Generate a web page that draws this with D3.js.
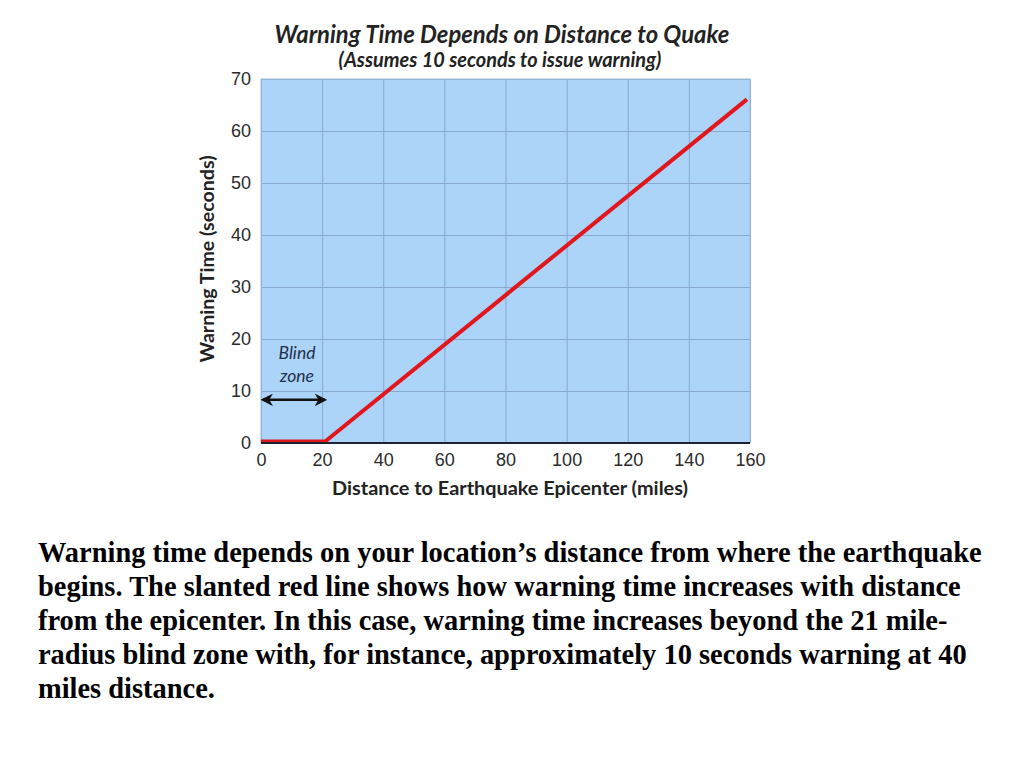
<!DOCTYPE html>
<html>
<head>
<meta charset="utf-8">
<script src="https://cdn.jsdelivr.net/npm/d3@7"></script>
<style>
  html, body { margin: 0; padding: 0; background: #fff; }
  svg { display: block; }
</style>
</head>
<body>
<svg id="chart" width="1024" height="768"></svg>
<script>
// values
var distanceMiles = [0, 21, 159];
var warningSeconds = [0, 0, 65.8];
var xTickValues = [0, 20, 40, 60, 80, 100, 120, 140, 160];
var yTickValues = [0, 10, 20, 30, 40, 50, 60, 70];
var blindZoneMiles = [0, 21.5];
var blindZoneArrowY = 8.3;

var titleText = 'Warning Time Depends on Distance to Quake';
var subtitleText = '(Assumes 10 seconds to issue warning)';
var xTitle = 'Distance to Earthquake Epicenter (miles)';
var yTitle = 'Warning Time (seconds)';
var captionLines = [
  'Warning time depends on your location\u2019s distance from where the earthquake',
  'begins. The slanted red line shows how warning time increases with distance',
  'from the epicenter. In this case, warning time increases beyond the 21 mile-',
  'radius blind zone with, for instance, approximately 10 seconds warning at 40',
  'miles distance.'
];

var svg = d3.select('#chart');
var plot = { left: 261, right: 750, top: 79, bottom: 443 };

var x = d3.scaleLinear().domain([0, 160]).range([plot.left, plot.right]);
var y = d3.scaleLinear().domain([0, 70]).range([plot.bottom, plot.top]);

// fit a text to a measured width by changing its font size
function fitWidth(sel, w, fs) {
  fs = fs || parseFloat(sel.attr('font-size'));
  var len = sel.node().getComputedTextLength();
  var nfs = fs * w / len;
  sel.attr('font-size', nfs.toFixed(2));
  return nfs;
}

// background
svg.append('rect')
  .attr('x', plot.left).attr('y', plot.top)
  .attr('width', plot.right - plot.left).attr('height', plot.bottom - plot.top)
  .attr('fill', '#acd3f8');

// grid
svg.append('g')
  .attr('transform', 'translate(0,' + plot.bottom + ')')
  .call(d3.axisBottom(x).tickValues(xTickValues).tickSize(-(plot.bottom - plot.top)).tickFormat(''))
  .call(function(g){ g.select('.domain').remove(); })
  .selectAll('line').attr('stroke', '#86a9cc').attr('stroke-width', 1);

svg.append('g')
  .attr('transform', 'translate(' + plot.left + ',0)')
  .call(d3.axisLeft(y).tickValues(yTickValues).tickSize(-(plot.right - plot.left)).tickFormat(''))
  .call(function(g){ g.select('.domain').remove(); })
  .selectAll('line').attr('stroke', '#86a9cc').attr('stroke-width', 1);

// frame lines
svg.append('rect')
  .attr('x', plot.left).attr('y', plot.top)
  .attr('width', plot.right - plot.left).attr('height', plot.bottom - plot.top)
  .attr('fill', 'none').attr('stroke', '#9dbfe0').attr('stroke-width', 1);

// tick labels
var xAxis = svg.append('g')
  .attr('transform', 'translate(0,' + plot.bottom + ')')
  .call(d3.axisBottom(x).tickValues(xTickValues).tickSize(0).tickPadding(10));
xAxis.select('.domain').remove();
xAxis.selectAll('text')
  .attr('font-family', 'Liberation Sans, Arial, sans-serif')
  .attr('font-size', 18).attr('fill', '#2b2b2b');

var yAxis = svg.append('g')
  .attr('transform', 'translate(' + plot.left + ',0)')
  .call(d3.axisLeft(y).tickValues(yTickValues).tickSize(0).tickPadding(10));
yAxis.select('.domain').remove();
yAxis.selectAll('text')
  .attr('font-family', 'Liberation Sans, Arial, sans-serif')
  .attr('font-size', 18).attr('fill', '#2b2b2b');

// warning time line
var line = d3.line().x(function(d){ return x(d[0]); }).y(function(d){ return y(d[1]); });
svg.append('path')
  .datum(d3.zip(distanceMiles, warningSeconds))
  .attr('d', line)
  .attr('fill', 'none')
  .attr('stroke', '#e2161d')
  .attr('stroke-width', 4)
  .attr('stroke-linejoin', 'round')
  .attr('transform', 'translate(0,-1.5)');

// x axis base line
svg.append('line')
  .attr('x1', plot.left).attr('x2', plot.right)
  .attr('y1', plot.bottom).attr('y2', plot.bottom)
  .attr('stroke', '#1d2330').attr('stroke-width', 2);

// blind zone arrow
var defs = svg.append('defs');
defs.append('marker')
  .attr('id', 'head')
  .attr('viewBox', '0 0 10 10')
  .attr('refX', 8).attr('refY', 5)
  .attr('markerWidth', 5).attr('markerHeight', 5)
  .attr('orient', 'auto-start-reverse')
  .attr('markerUnits', 'strokeWidth')
  .append('path')
    .attr('d', 'M0,0 L10,5 L0,10 L3,5 Z')
    .attr('fill', '#111');

svg.append('line')
  .attr('x1', x(blindZoneMiles[0]) + 2).attr('x2', x(blindZoneMiles[1]) - 2)
  .attr('y1', y(blindZoneArrowY)).attr('y2', y(blindZoneArrowY))
  .attr('stroke', '#111').attr('stroke-width', 2.5)
  .attr('marker-start', 'url(#head)')
  .attr('marker-end', 'url(#head)');

var blind = svg.append('g')
  .attr('font-family', 'Lato, Open Sans, sans-serif')
  .attr('font-style', 'italic')
  .attr('font-size', 17.5)
  .attr('fill', '#22304d')
  .attr('text-anchor', 'middle');
blind.append('text').attr('x', 297).attr('y', 359).text('Blind');
blind.append('text').attr('x', 297).attr('y', 382).text('zone');

// titles
var t1 = svg.append('text')
  .attr('x', 502).attr('y', 43)
  .attr('text-anchor', 'middle')
  .attr('font-family', 'Lato, Open Sans, sans-serif')
  .attr('font-style', 'italic').attr('font-weight', 700)
  .attr('font-size', 20).attr('fill', '#222')
  .text(titleText);
fitWidth(t1, 455);

var t2 = svg.append('text')
  .attr('x', 500).attr('y', 67)
  .attr('text-anchor', 'middle')
  .attr('font-family', 'Lato, Open Sans, sans-serif')
  .attr('font-style', 'italic').attr('font-weight', 700)
  .attr('font-size', 16).attr('fill', '#222')
  .text(subtitleText);
fitWidth(t2, 323);

var xt = svg.append('text')
  .attr('x', 510).attr('y', 495)
  .attr('text-anchor', 'middle')
  .attr('font-family', 'Lato, Open Sans, sans-serif')
  .attr('font-weight', 700)
  .attr('font-size', 16).attr('fill', '#222')
  .text(xTitle);
fitWidth(xt, 356);

var yt = svg.append('text')
  .attr('transform', 'translate(214,259) rotate(-90)')
  .attr('text-anchor', 'middle')
  .attr('font-family', 'Lato, Open Sans, sans-serif')
  .attr('font-weight', 700)
  .attr('font-size', 16).attr('fill', '#222')
  .text(yTitle);
fitWidth(yt, 207);

// caption
var caption = svg.append('g')
  .attr('font-family', 'Liberation Serif, Times New Roman, serif')
  .attr('font-weight', 700)
  .attr('fill', '#000');
var captionText = caption.selectAll('text')
  .data(captionLines)
  .enter().append('text')
    .attr('x', 38)
    .attr('y', function(d, i){ return 562 + i * 34; })
    .attr('font-size', 24)
    .text(function(d){ return d; });
var capSize = fitWidth(d3.select(captionText.nodes()[0]), 944, 24);
captionText.attr('font-size', capSize.toFixed(2));
</script>
</body>
</html>
